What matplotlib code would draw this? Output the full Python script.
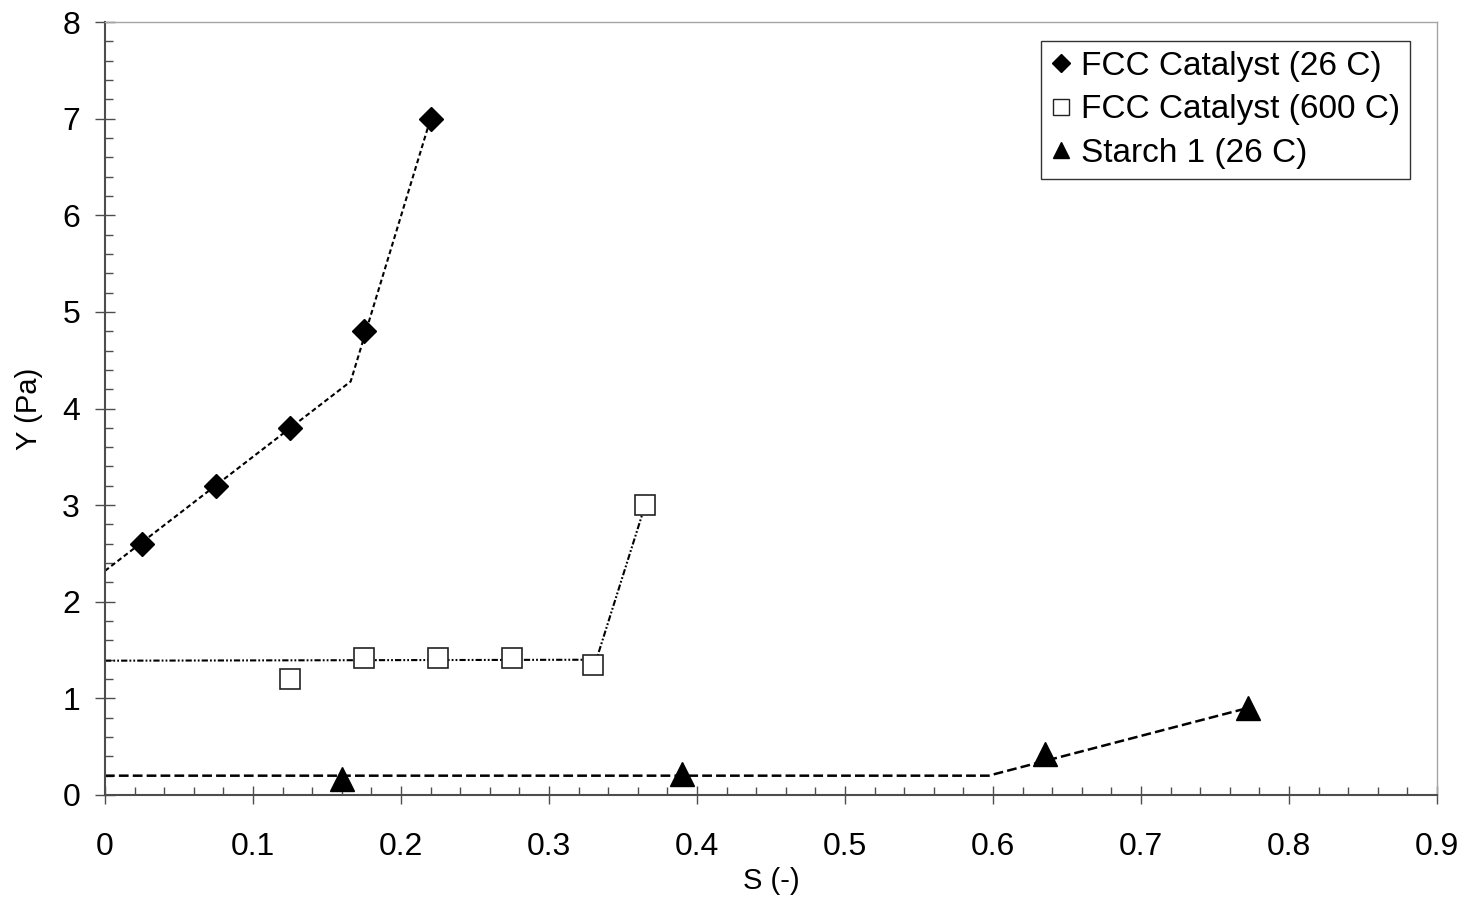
import numpy as np
import matplotlib.pyplot as plt
from matplotlib.lines import Line2D
from matplotlib.ticker import MultipleLocator

plt.rcParams['font.family'] = ['Liberation Sans', 'DejaVu Sans']
plt.rcParams['lines.scale_dashes'] = False

# measured points
s_fcc26 = [0.025, 0.075, 0.125, 0.175, 0.22]
y_fcc26 = [2.6, 3.2, 3.8, 4.8, 7.0]

s_fcc600 = [0.125, 0.175, 0.225, 0.275, 0.33, 0.365]
y_fcc600 = [1.2, 1.42, 1.42, 1.42, 1.35, 3.0]

s_starch = [0.16, 0.39, 0.635, 0.772]
y_starch = [0.17, 0.22, 0.42, 0.9]

# bilinear fits
fit_s_fcc26 = [0.0, 0.166, 0.22]
fit_y_fcc26 = [2.32, 4.28, 7.0]

fit_s_fcc600 = [0.0, 0.332, 0.366]
fit_y_fcc600 = [1.39, 1.40, 3.05]

fit_s_starch = [0.0, 0.597, 0.772]
fit_y_starch = [0.2, 0.2, 0.9]

labels = ['FCC Catalyst (26 C)', 'FCC Catalyst (600 C)', 'Starch 1 (26 C)']

fig = plt.figure(figsize=(14.65, 9.02), dpi=100)
ax = fig.add_axes([105/1465, 107/902, 1332/1465, 773/902])

ax.plot(fit_s_fcc26, fit_y_fcc26, color='black', lw=1.5, dashes=(3.5, 2.2), zorder=2)
ax.plot(fit_s_fcc600, fit_y_fcc600, color='black', lw=1.5,
        dashes=(4.5, 1.5, 1.3, 1.5, 1.3, 1.5), zorder=2)
ax.plot(fit_s_starch, fit_y_starch, color='black', lw=1.8, dashes=(7, 3), zorder=2)

ax.plot(s_fcc26, y_fcc26, ls='none', marker='D', ms=12, color='black', zorder=3)
ax.plot(s_fcc600, y_fcc600, ls='none', marker='s', ms=14, mfc='white',
        mec='#222222', mew=1.2, zorder=3)
ax.plot(s_starch, y_starch, ls='none', marker='^', ms=17, color='black', zorder=3)

ax.set_xlim(0, 0.9)
ax.set_ylim(0, 8)
ax.xaxis.set_major_locator(MultipleLocator(0.1))
ax.xaxis.set_minor_locator(MultipleLocator(0.02))
ax.yaxis.set_major_locator(MultipleLocator(1))
ax.yaxis.set_minor_locator(MultipleLocator(0.2))
ax.xaxis.set_major_formatter(plt.FuncFormatter(lambda v, p: '0' if abs(v) < 1e-9 else f'{v:g}'))

for side in ['left', 'bottom']:
    ax.spines[side].set_color('#4d4d4d')
    ax.spines[side].set_linewidth(1.5)
for side in ['top', 'right']:
    ax.spines[side].set_color('#a6a6a6')
    ax.spines[side].set_linewidth(1.0)

ax.tick_params(axis='x', which='major', direction='inout', length=13, width=1.0,
               color='#4d4d4d', labelsize=23, pad=20)
ax.tick_params(axis='x', which='minor', direction='in', length=5.5, width=1.0, color='#4d4d4d')
ax.tick_params(axis='y', which='major', direction='inout', length=14, width=1.0,
               color='#4d4d4d', labelsize=23, pad=11)
ax.tick_params(axis='y', which='minor', direction='in', length=6, width=1.0, color='#4d4d4d')

ax.set_xlabel('S (-)', fontsize=21, labelpad=4)
ax.set_ylabel('Y (Pa)', fontsize=21, labelpad=14)

handles = [
    Line2D([], [], ls='none', marker='D', ms=9, color='black'),
    Line2D([], [], ls='none', marker='s', ms=11, mfc='white', mec='#222222', mew=1.0),
    Line2D([], [], ls='none', marker='^', ms=12, color='black'),
]
leg = ax.legend(handles, labels, loc='upper right', bbox_to_anchor=(0.98, 0.976),
                borderaxespad=0, fontsize=24, frameon=True, fancybox=False,
                handlelength=0.6, handletextpad=0.3, labelspacing=0.38, borderpad=0.3)
leg.get_frame().set_edgecolor('black')
leg.get_frame().set_linewidth(1.0)

fig.savefig('out.png', dpi=100)
